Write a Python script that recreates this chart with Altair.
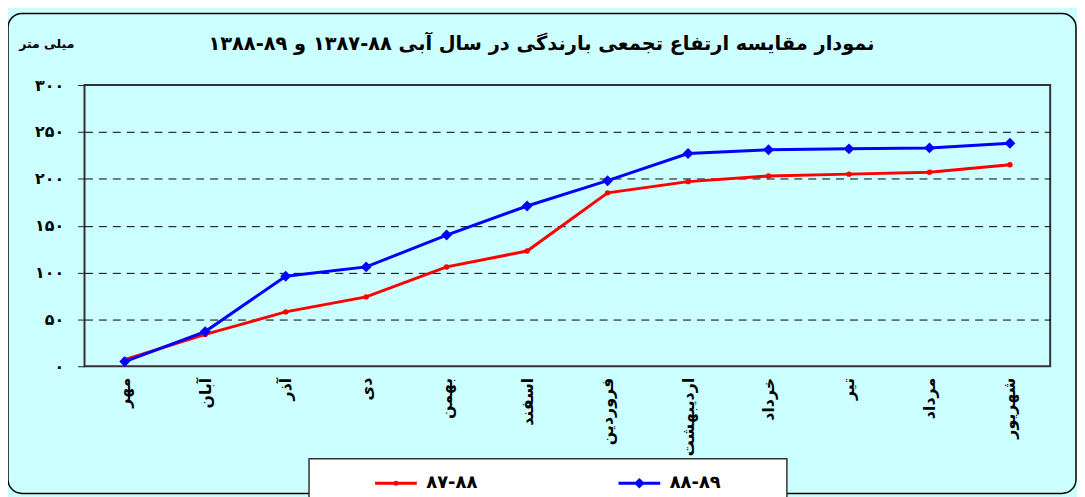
import altair as alt
import pandas as pd

# ---- data ----
months = ["مهر", "آبان", "آذر", "دی", "بهمن", "اسفند",
          "فروردین", "اردیبهشت", "خرداد", "تیر", "مرداد", "شهریور"]
series_names = ["۸۷-۸۸", "۸۸-۸۹"]
rain_87_88 = [7, 34, 58, 74, 106, 123, 185, 197, 203, 205, 207, 215]
rain_88_89 = [5, 37, 96, 106, 140, 171, 198, 227, 231, 232, 233, 238]
y_tick_values = [0, 50, 100, 150, 200, 250, 300]
y_tick_labels = ["۰", "۵۰", "۱۰۰", "۱۵۰", "۲۰۰", "۲۵۰", "۳۰۰"]
title_text = "نمودار مقایسه ارتفاع تجمعی بارندگی در سال آبی ۸۸-۱۳۸۷ و ۸۹-۱۳۸۸"
unit_text = "میلی متر"
colors = ["#FF0000", "#0000FF"]

rows = []
for name, vals in zip(series_names, [rain_87_88, rain_88_89]):
    for m, v in zip(months, vals):
        rows.append({"month": m, "series": name, "value": v})
df = pd.DataFrame(rows)

FONT = "DejaVu Sans"
W, H = 972, 283

label_map = "{" + ",".join(f"'{v}':'{l}'" for v, l in zip(y_tick_values, y_tick_labels)) + "}"

x_enc = alt.X("month:N", sort=months, title=None,
              axis=alt.Axis(labelAngle=270, ticks=False, domain=False, labelPadding=11,
                            labelFont=FONT, labelFontSize=16, labelFontWeight="bold",
                            labelColor="black", labelLimit=200))
y_enc = alt.Y("value:Q", title=None,
              scale=alt.Scale(domain=[0, 300], nice=False),
              axis=alt.Axis(values=y_tick_values, labelExpr=f"{label_map}[datum.value]",
                            domain=False, tickSize=7, tickColor="#222", labelPadding=14,
                            labelFont=FONT, labelFontSize=16, labelFontWeight="bold",
                            labelColor="black",
                            grid=True, gridColor="black", gridDash=[8, 6], gridWidth=1,
                            gridOpacity={"condition": {"test": "datum.value == 0 || datum.value == 300", "value": 0}, "value": 1}))

# legend symbols: a line segment with a marker
path_red = "M-1,0H1M0.05,0A0.05,0.05 0 1,1 -0.05,0A0.05,0.05 0 1,1 0.05,0Z"
path_blue = "M-1,0H1M0,-0.15L0.15,0L0,0.15L-0.15,0Z"

legend = alt.Legend(
    orient="none", legendX=291, legendY=378, direction="horizontal", title=None,
    symbolSize=1764, symbolStrokeWidth=3, symbolOpacity=1,
    labelFont=FONT, labelFontSize=18,
    labelFontWeight="bold", labelColor="black", labelOffset=8, columnPadding=135,
    padding=0,
)

base = alt.Chart(df)
line_red = base.transform_filter(alt.datum.series == series_names[0]).mark_line(
    strokeWidth=3, color=colors[0]).encode(x=x_enc, y=y_enc)
line_blue = base.transform_filter(alt.datum.series == series_names[1]).mark_line(
    strokeWidth=3, color=colors[1]).encode(x=x_enc, y=y_enc)
pts_red = base.transform_filter(alt.datum.series == series_names[0]).mark_point(
    shape="circle", filled=True, size=30, color=colors[0], opacity=1).encode(x=x_enc, y=y_enc)
pts_blue = base.transform_filter(alt.datum.series == series_names[1]).mark_point(
    shape="diamond", filled=True, size=120, color=colors[1], opacity=1).encode(x=x_enc, y=y_enc)

legend_layer = base.transform_filter("false").mark_point(
    filled=False, size=1764, strokeWidth=3, opacity=1).encode(
    shape=alt.Shape("series:N", scale=alt.Scale(domain=series_names, range=[path_red, path_blue]),
                    legend=legend),
    color=alt.Color("series:N", scale=alt.Scale(domain=series_names, range=colors), legend=legend),
)

one = alt.Data(values=[{}])
frame = alt.Chart(one).mark_rect(cornerRadius=14, fillOpacity=0, stroke="black", strokeWidth=1.5).encode(
    x=alt.value(-77), x2=alt.value(998), y=alt.value(-72), y2=alt.value(411))
legend_box = alt.Chart(one).mark_rect(fill="white", stroke="#333", strokeWidth=1.5).encode(
    x=alt.value(226), x2=alt.value(707), y=alt.value(376), y2=alt.value(440))
title = alt.Chart(one).mark_text(font=FONT, fontSize=19.5, fontWeight="bold", color="black",
                                 align="center", baseline="middle").encode(
    x=alt.value(460), y=alt.value(-41), text=alt.value(title_text))
unit = alt.Chart(one).mark_text(font=FONT, fontSize=12.5, fontWeight="bold", color="black",
                                align="center", baseline="middle").encode(
    x=alt.value(-38), y=alt.value(-41), text=alt.value(unit_text))

chart = alt.layer(frame, legend_box, title, unit, line_red, line_blue, pts_red, pts_blue,
                  legend_layer).properties(
    width=W, height=H,
    autosize=alt.AutoSizeParams(type="none"),
    padding={"left": 77, "top": 76, "right": 27, "bottom": 130},
    background="#CCFFFF",
).configure_view(fill="white", stroke="#333", strokeWidth=2)

chart.save("out.html", embed_options={"renderer": "svg", "actions": False})
